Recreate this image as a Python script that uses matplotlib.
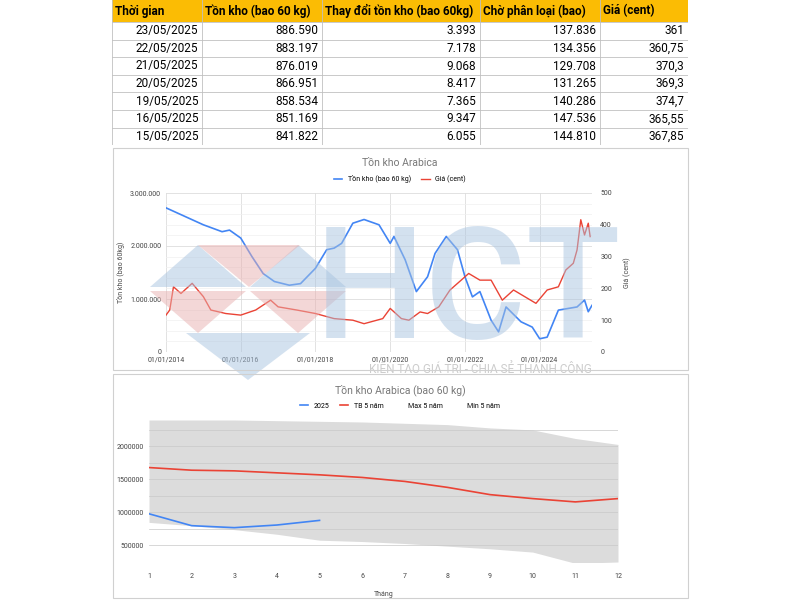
import matplotlib.pyplot as plt
import matplotlib.patches as mpatches
import numpy as np

plt.rcParams['font.family'] = 'Roboto'

# ---- table data
headers = ['Thời gian', 'Tồn kho (bao 60 kg)', 'Thay đổi tồn kho (bao 60kg)', 'Chờ phân loại (bao)', 'Giá (cent)']
dates = ['23/05/2025', '22/05/2025', '21/05/2025', '20/05/2025', '19/05/2025', '16/05/2025', '15/05/2025']
stock = ['886.590', '883.197', '876.019', '866.951', '858.534', '851.169', '841.822']
change = ['3.393', '7.178', '9.068', '8.417', '7.365', '9.347', '6.055']
pending = ['137.836', '134.356', '129.708', '131.265', '140.286', '147.536', '144.810']
price = ['361', '360,75', '370,3', '369,3', '374,7', '365,55', '367,85']

# ---- history chart (approximate readings)
inv_t = [2014.0, 2014.5, 2015.0, 2015.5, 2015.7, 2016.0, 2016.3, 2016.6, 2016.9, 2017.3, 2017.6, 2018.0,
         2018.3, 2018.5, 2018.7, 2019.0, 2019.3, 2019.7, 2020.0, 2020.1, 2020.4, 2020.7, 2021.0, 2021.2,
         2021.5, 2021.8, 2022.0, 2022.2, 2022.4, 2022.7, 2022.9, 2023.1, 2023.5, 2023.8, 2024.0, 2024.2,
         2024.5, 2025.0, 2025.2, 2025.3, 2025.4]
inv_v = [2.72, 2.56, 2.40, 2.27, 2.30, 2.15, 1.80, 1.48, 1.33, 1.26, 1.29, 1.58,
         1.93, 1.96, 2.05, 2.43, 2.50, 2.40, 2.05, 2.18, 1.74, 1.14, 1.42, 1.86,
         2.18, 1.93, 1.42, 1.04, 1.14, 0.60, 0.38, 0.85, 0.57, 0.47, 0.25, 0.28,
         0.79, 0.85, 0.98, 0.76, 0.88]
px_t = [2014.0, 2014.1, 2014.2, 2014.4, 2014.7, 2015.0, 2015.2, 2015.6, 2016.0, 2016.4, 2016.8, 2017.0,
        2017.5, 2018.0, 2018.5, 2019.0, 2019.3, 2019.8, 2020.0, 2020.3, 2020.5, 2020.8, 2021.0, 2021.3,
        2021.6, 2021.9, 2022.1, 2022.4, 2022.7, 2023.0, 2023.3, 2023.6, 2023.9, 2024.2, 2024.5, 2024.7,
        2024.9, 2025.0, 2025.1, 2025.2, 2025.3, 2025.35]
px_v = [116, 132, 205, 184, 216, 174, 132, 121, 116, 132, 163, 142,
        132, 121, 105, 100, 89, 105, 137, 105, 100, 126, 121, 142,
        195, 226, 247, 226, 226, 163, 195, 174, 153, 195, 205, 258,
        279, 321, 416, 368, 405, 363]

# ---- seasonal chart
months = list(range(1, 13))
avg5 = [1.68, 1.64, 1.63, 1.60, 1.57, 1.53, 1.47, 1.38, 1.27, 1.21, 1.16, 1.21]
max5 = [2.40, 2.40, 2.40, 2.39, 2.38, 2.37, 2.35, 2.33, 2.28, 2.25, 2.12, 2.03]
min5 = [0.85, 0.80, 0.74, 0.67, 0.58, 0.56, 0.53, 0.49, 0.45, 0.40, 0.23, 0.25]
m2025 = [0.98, 0.80, 0.77, 0.81, 0.88]

W, H = 800, 600
fig = plt.figure(figsize=(8, 6), dpi=100)

def box(x0, y0, x1, y1):
    return [x0 / W, 1 - y1 / H, (x1 - x0) / W, (y1 - y0) / H]

# table
tab = fig.add_axes(box(112, 0, 688, 145))
tab.set_xlim(112, 688); tab.set_ylim(145, 0); tab.axis('off')
cols = [112, 202, 322, 480, 600, 688]
rowh = 17.6
tab.add_patch(mpatches.Rectangle((112, 0), 576, 22, color='#fbbc04', lw=0))
for i, h in enumerate(headers):
    tab.text(cols[i] + 3, 11, h, fontsize=8.5, fontweight='bold', va='center')
rows = list(zip(dates, stock, change, pending, price))
for r, row in enumerate(rows):
    yc = 22 + rowh * r + rowh / 2
    for i, v in enumerate(row):
        tab.text(cols[i + 1] - 4, yc, v, fontsize=8.5, va='center', ha='right')
for x in cols:
    tab.plot([x, x], [0, 145], color='#c0c0c0', lw=0.6)
for r in range(len(rows) + 1):
    y = 22 + rowh * r
    tab.plot([112, 688], [y, y], color='#c0c0c0', lw=0.6)

# panel borders
for (x0, y0, x1, y1) in [(113, 148, 688, 370), (113, 374, 688, 598)]:
    fig.patches.append(mpatches.Rectangle((x0 / W, 1 - y1 / H), (x1 - x0) / W, (y1 - y0) / H,
                                          transform=fig.transFigure, fill=False, ec='#d0d0d0', lw=0.8))

# chart 1
ax = fig.add_axes(box(166, 193, 592, 352))
ax.plot(inv_t, inv_v, color='#4285f4', lw=1.2, label='Tồn kho (bao 60 kg)')
ax.set_xlim(2014, 2025.4); ax.set_ylim(0, 3)
ax.set_yticks([0, 1, 2, 3]); ax.set_yticklabels(['0', '1.000.000', '2.000.000', '3.000.000'])
ax.set_yticks(np.arange(0, 3.01, 0.2), minor=True)
ax.set_xticks([2014, 2016, 2018, 2020, 2022, 2024])
ax.set_xticklabels(['01/01/2014', '01/01/2016', '01/01/2018', '01/01/2020', '01/01/2022', '01/01/2024'])
ax.grid(True, which='major', color='#dddddd', lw=0.6)
ax.grid(True, which='minor', axis='y', color='#f0f0f0', lw=0.5)
ax.tick_params(labelsize=5, length=0, colors='#444444')
ax.tick_params(which='minor', length=0)
ax.set_ylabel('Tồn kho (bao 60kg)', fontsize=5, color='#444444')
for s in ax.spines.values():
    s.set_visible(False)
ax2 = ax.twinx()
ax2.plot(px_t, px_v, color='#ea4335', lw=1.0, label='Giá (cent)')
ax2.set_ylim(0, 500); ax2.set_yticks([0, 100, 200, 300, 400, 500])
ax2.tick_params(labelsize=5, length=0, colors='#444444', pad=6)
ax2.set_ylabel('Giá (cent)', fontsize=5, color='#444444', labelpad=8)
for s in ax2.spines.values():
    s.set_visible(False)
fig.text(400 / W, 1 - 163 / H, 'Tồn kho Arabica', ha='center', va='center', fontsize=7.5, color='#757575')
h1, l1 = ax.get_legend_handles_labels(); h2, l2 = ax2.get_legend_handles_labels()
fig.legend(h1 + h2, l1 + l2, loc='center', bbox_to_anchor=(400 / W, 1 - 179 / H), ncol=2,
           fontsize=5, frameon=False, handlelength=1.2, columnspacing=1.5)

# chart 2
bx = fig.add_axes(box(149, 420, 618, 562))
bx.fill_between(months, min5, max5, color='#dcdcdc', lw=0)
bx.plot(months, avg5, color='#ea4335', lw=1.2, label='TB 5 năm')
bx.plot(months[:len(m2025)], m2025, color='#4285f4', lw=1.2, label='2025')
bx.plot([], [], color='none', label='Max 5 năm')
bx.plot([], [], color='none', label='Min 5 năm')
bx.set_xlim(1, 12); bx.set_ylim(0.25, 2.4)
bx.set_xticks(months)
bx.set_yticks([0.5, 1.0, 1.5, 2.0]); bx.set_yticklabels(['500000', '1000000', '1500000', '2000000'])
bx.set_yticks(np.arange(0.25, 2.4, 0.25), minor=True)
bx.grid(True, which='both', axis='y', color='#c8c8c8', lw=0.5)
bx.tick_params(axis='y', labelsize=5, length=0, colors='#444444', pad=4)
bx.tick_params(axis='x', labelsize=5, length=0, colors='#444444', pad=8)
bx.tick_params(which='minor', length=0)
bx.set_xlabel('Tháng', fontsize=5, color='#444444', labelpad=8)
for s in bx.spines.values():
    s.set_visible(False)
fig.text(400 / W, 1 - 390 / H, 'Tồn kho Arabica (bao 60 kg)', ha='center', va='center', fontsize=7.5, color='#757575')
hh, ll = bx.get_legend_handles_labels()
order = [1, 0, 2, 3]
fig.legend([hh[i] for i in order], [ll[i] for i in order], loc='center', bbox_to_anchor=(400 / W, 1 - 406 / H),
           ncol=4, fontsize=5, frameon=False, handlelength=1.2, columnspacing=1.5)

# watermark
wm = fig.add_axes([0, 0, 1, 1]); wm.set_xlim(0, W); wm.set_ylim(H, 0); wm.axis('off')
blue, red = '#a9c4e0', '#e8b0b0'
wm.add_patch(mpatches.Polygon([(150, 287), (198, 245), (246, 287)], color=blue, alpha=0.5, lw=0))
wm.add_patch(mpatches.Polygon([(250, 287), (298, 245), (346, 287)], color=blue, alpha=0.5, lw=0))
wm.add_patch(mpatches.Polygon([(198, 245), (300, 245), (249, 287)], color=red, alpha=0.5, lw=0))
wm.add_patch(mpatches.Polygon([(150, 291), (246, 291), (198, 333)], color=red, alpha=0.5, lw=0))
wm.add_patch(mpatches.Polygon([(250, 291), (346, 291), (298, 333)], color=red, alpha=0.5, lw=0))
wm.add_patch(mpatches.Polygon([(186, 333), (310, 333), (248, 380)], color=blue, alpha=0.5, lw=0))
wm.text(468, 296, 'HCT', fontsize=112, fontweight='medium', color=blue, alpha=0.5, ha='center', va='center')
wm.text(480, 369, 'KIẾN TẠO GIÁ TRỊ - CHIA SẺ THÀNH CÔNG', fontsize=8.5, color='#cccccc', ha='center', va='center')

fig.savefig('out.png', dpi=100)
